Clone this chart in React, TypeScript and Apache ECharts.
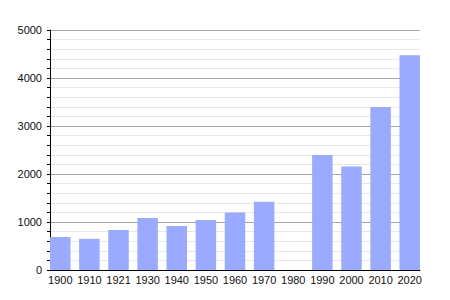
import React, { useEffect, useRef } from "react";
import * as echarts from "echarts";

const categories = ["1900", "1910", "1921", "1930", "1940", "1950", "1960", "1970", "1980", "1990", "2000", "2010", "2020"];
const population: (number | null)[] = [690, 650, 835, 1085, 918, 1044, 1197, 1420, null, 2395, 2157, 3397, 4474];
const yMax = 5000;
const yInterval = 1000;

export default function App() {
  const ref = useRef<HTMLDivElement>(null);
  useEffect(() => {
    if (!ref.current) return;
    const chart = echarts.init(ref.current, null, { renderer: "svg" });
    chart.setOption({
      animation: false,
      backgroundColor: "#ffffff",
      grid: [
        { left: 50, right: 30, top: 30, bottom: 30, containLabel: false },
        { left: 45.7, right: 25.7, top: 30, bottom: 30, containLabel: false },
      ],
      xAxis: [
        {
          gridIndex: 0,
          type: "value",
          min: 0,
          max: 1,
          axisLine: { show: true, onZero: false, lineStyle: { color: "#000", width: 1 } },
          axisTick: { show: false },
          axisLabel: { show: false },
          splitLine: { show: false },
        },
        {
          gridIndex: 1,
          type: "category",
          data: categories,
          axisLine: { show: false },
          axisTick: { show: false },
          splitLine: { show: false },
          axisLabel: {
            color: "#111",
            fontFamily: "Liberation Sans, Arial, sans-serif",
            fontSize: 11,
            margin: 4,
            interval: 0,
          },
        },
      ],
      yAxis: [
        {
          gridIndex: 0,
          type: "value",
          min: 0,
          max: yMax,
          interval: yInterval,
          axisLine: { show: true, lineStyle: { color: "#000", width: 1 } },
          axisTick: { show: true, inside: false, length: 3, lineStyle: { color: "#000" } },
          minorTick: { show: true, splitNumber: 5, length: 3, lineStyle: { color: "#000" } },
          axisLabel: {
            color: "#111",
            fontFamily: "Liberation Sans, Arial, sans-serif",
            fontSize: 11,
            margin: 8,
            formatter: (v: number) => String(v),
          },
          splitLine: { show: true, lineStyle: { color: "#a8a8a8", width: 1 } },
          minorSplitLine: { show: true, lineStyle: { color: "#e8e8e8", width: 1 } },
        },
        {
          gridIndex: 1,
          type: "value",
          min: 0,
          max: yMax,
          show: false,
          splitLine: { show: false },
        },
      ],
      series: [
        {
          type: "bar",
          xAxisIndex: 1,
          yAxisIndex: 1,
          data: population,
          barWidth: 20.5,
          itemStyle: { color: "#99aaff" },
        },
      ],
    });
    return () => chart.dispose();
  }, []);
  return <div ref={ref} style={{ position: "fixed", left: 0, top: 0, width: 450, height: 300 }} />;
}
